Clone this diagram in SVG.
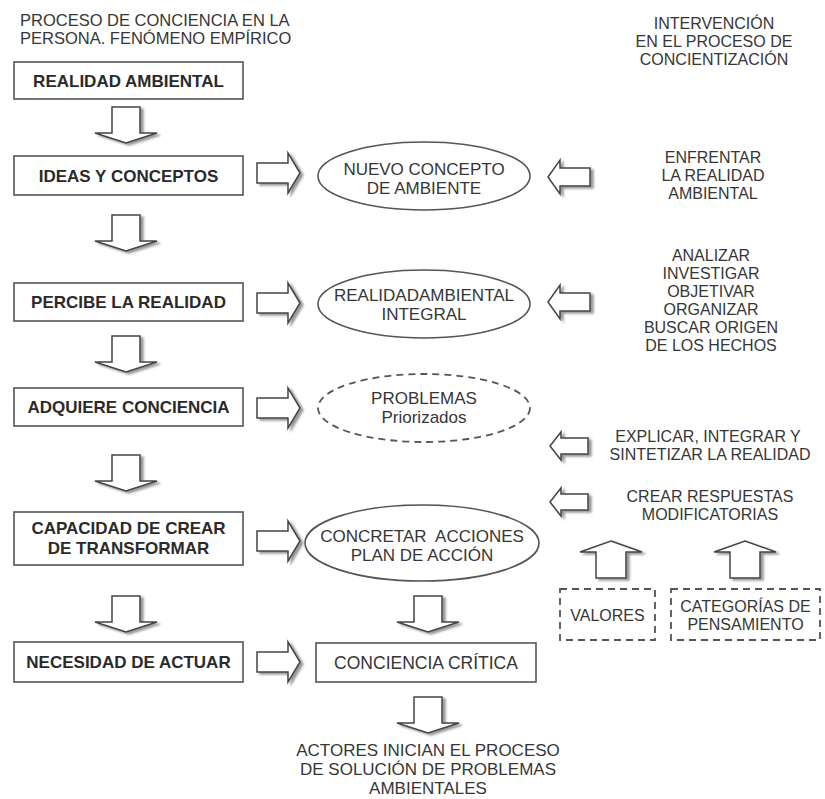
<svg xmlns="http://www.w3.org/2000/svg" width="825" height="799" viewBox="0 0 825 799">
<style>
text{font-family:"Liberation Sans",Arial,"Open Sans",sans-serif;fill:#363636;text-anchor:middle}
.h{font-size:16.5px;text-anchor:start}
.b{font-size:17px;font-weight:bold;fill:#2a2a2a}
.t{font-size:17px}
.c{font-size:17.5px}
.r{font-size:16px}
.box{fill:#fff;stroke:#555;stroke-width:1.6}
.ell{fill:#fff;stroke:#555;stroke-width:1.6}
.dash{fill:#fff;stroke:#555;stroke-width:1.8;stroke-dasharray:7 5}
.arr{fill:#fff;stroke:#444;stroke-width:1.5;stroke-linejoin:miter;filter:url(#sh)}
</style>
<defs>
<filter id="sh" x="-30%" y="-30%" width="170%" height="170%">
<feGaussianBlur in="SourceAlpha" stdDeviation="1.2"/>
<feOffset dx="2.5" dy="2" result="b"/>
<feFlood flood-color="#777" flood-opacity="0.75"/>
<feComposite in2="b" operator="in"/>
<feMerge><feMergeNode/><feMergeNode in="SourceGraphic"/></feMerge>
</filter>
<path id="dn" d="M -14 0 H 14 V 26 H 31 L 0 36 L -31 26 H -14 Z"/>
<path id="rt" d="M 0 -10 H 31 V -20 L 43 0 L 31 20 V 10 H 0 Z"/>
<path id="lt" d="M 0 0 L 12 -17 V -9 H 42 V 9 H 12 V 17 Z"/>
<path id="lts" d="M 0 0 L 11 -14 V -8 H 38 V 8 H 11 V 14 Z"/>
<path id="up" d="M 0 0 L 31 11 H 15 V 37 H -15 V 11 H -31 Z"/>
</defs>
<rect width="825" height="799" fill="#fff"/>

<g id="heading-left">
<text class="h" x="20" y="25.5">PROCESO DE CONCIENCIA EN LA</text>
<text class="h" x="20" y="44">PERSONA. FENÓMENO EMPÍRICO</text>
</g>
<g id="heading-right">
<text class="r" x="714" y="29">INTERVENCIÓN</text>
<text class="r" x="714" y="47">EN EL PROCESO DE</text>
<text class="r" x="714" y="65">CONCIENTIZACIÓN</text>
</g>

<g id="connectors">
<use href="#dn" x="126" y="107" class="arr"/>
<use href="#dn" x="126" y="215" class="arr"/>
<use href="#dn" x="126" y="336" class="arr"/>
<use href="#dn" x="126" y="455" class="arr"/>
<use href="#dn" x="126" y="596" class="arr"/>
<use href="#dn" x="428" y="596" class="arr"/>
<use href="#dn" x="428" y="697" class="arr"/>
<use href="#rt" x="257" y="173" class="arr"/>
<use href="#rt" x="257" y="303" class="arr"/>
<use href="#rt" x="257" y="408" class="arr"/>
<use href="#rt" x="257" y="541" class="arr"/>
<use href="#rt" x="257" y="662" class="arr"/>
<use href="#lt" x="548" y="177" class="arr"/>
<use href="#lt" x="548" y="302" class="arr"/>
<use href="#lts" x="550" y="446" class="arr"/>
<use href="#lts" x="550" y="502" class="arr"/>
<use href="#up" x="611" y="541" class="arr"/>
<use href="#up" x="745" y="541" class="arr"/>
</g>

<g id="realidad-ambiental">
<rect class="box" x="14" y="62" width="229" height="37"/>
<text class="b" x="128.5" y="86.5">REALIDAD AMBIENTAL</text>
</g>
<g id="ideas-conceptos">
<rect class="box" x="14" y="156" width="229" height="39"/>
<text class="b" x="128.5" y="181.5">IDEAS Y CONCEPTOS</text>
</g>
<g id="percibe">
<rect class="box" x="14" y="283" width="229" height="38"/>
<text class="b" x="128.5" y="308">PERCIBE LA REALIDAD</text>
</g>
<g id="adquiere">
<rect class="box" x="14" y="388" width="229" height="38"/>
<text class="b" x="128.5" y="413">ADQUIERE CONCIENCIA</text>
</g>
<g id="capacidad">
<rect class="box" x="14" y="512" width="229" height="53"/>
<text class="b" x="128.5" y="534">CAPACIDAD DE CREAR</text>
<text class="b" x="128.5" y="554">DE TRANSFORMAR</text>
</g>
<g id="necesidad">
<rect class="box" x="14" y="642" width="229" height="40"/>
<text class="b" x="128.5" y="668">NECESIDAD DE ACTUAR</text>
</g>

<g id="nuevo-concepto">
<ellipse class="ell" cx="424" cy="176" rx="106" ry="34"/>
<text class="t" x="424" y="175">NUEVO CONCEPTO</text>
<text class="t" x="424" y="194">DE AMBIENTE</text>
</g>
<g id="realidad-integral">
<ellipse class="ell" cx="424" cy="304" rx="106" ry="34"/>
<text class="t" x="424" y="301">REALIDADAMBIENTAL</text>
<text class="t" x="424" y="320">INTEGRAL</text>
</g>
<g id="problemas">
<ellipse class="dash" cx="424" cy="408" rx="106" ry="34"/>
<text class="t" x="424" y="404">PROBLEMAS</text>
<text class="t" x="424" y="423">Priorizados</text>
</g>
<g id="concretar">
<ellipse class="ell" cx="422" cy="543" rx="117" ry="38"/>
<text class="t" x="422" y="542" xml:space="preserve">CONCRETAR  ACCIONES</text>
<text class="t" x="422" y="561">PLAN DE ACCIÓN</text>
</g>
<g id="conciencia-critica">
<rect class="box" x="316" y="643" width="220" height="39"/>
<text class="c" x="426" y="668.5">CONCIENCIA CRÍTICA</text>
</g>

<g id="enfrentar">
<text class="r" x="713" y="163">ENFRENTAR</text>
<text class="r" x="713" y="181">LA REALIDAD</text>
<text class="r" x="713" y="199">AMBIENTAL</text>
</g>
<g id="analizar">
<text class="r" x="711" y="261">ANALIZAR</text>
<text class="r" x="711" y="279">INVESTIGAR</text>
<text class="r" x="711" y="297">OBJETIVAR</text>
<text class="r" x="711" y="315">ORGANIZAR</text>
<text class="r" x="711" y="333">BUSCAR ORIGEN</text>
<text class="r" x="711" y="351">DE LOS HECHOS</text>
</g>
<g id="explicar">
<text class="r" x="708" y="442">EXPLICAR, INTEGRAR Y</text>
<text class="r" x="710" y="460">SINTETIZAR LA REALIDAD</text>
</g>
<g id="crear">
<text class="r" x="710" y="502">CREAR RESPUESTAS</text>
<text class="r" x="710" y="520">MODIFICATORIAS</text>
</g>
<g id="valores">
<rect class="dash" x="560" y="589" width="95" height="51"/>
<text class="r" x="607.5" y="621">VALORES</text>
</g>
<g id="categorias">
<rect class="dash" x="671" y="589" width="149" height="51"/>
<text class="r" x="745.5" y="612">CATEGORÍAS DE</text>
<text class="r" x="745.5" y="630">PENSAMIENTO</text>
</g>
<g id="actores">
<text class="t" x="428" y="756">ACTORES INICIAN EL PROCESO</text>
<text class="t" x="428" y="775">DE SOLUCIÓN DE PROBLEMAS</text>
<text class="t" x="428" y="794">AMBIENTALES</text>
</g>
</svg>
